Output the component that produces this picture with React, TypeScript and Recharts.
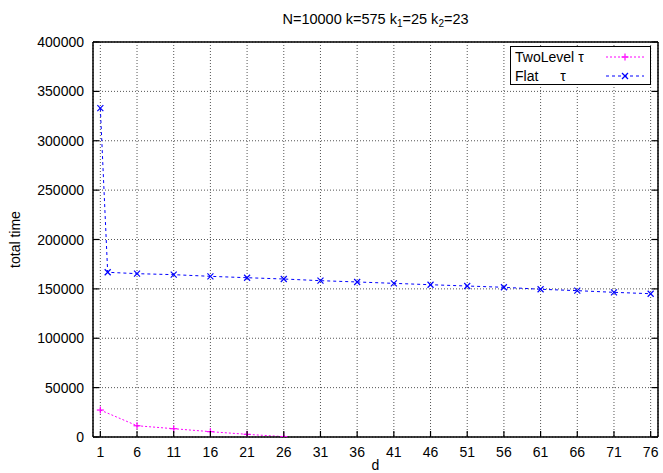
import { LineChart, Line, XAxis, YAxis, CartesianGrid } from 'recharts';

const dFlat = [1, 2, 6, 11, 16, 21, 26, 31, 36, 41, 46, 51, 56, 61, 66, 71, 76];
const flatTime = [
  333000, 166800, 165400, 164400, 162700, 161300, 160000, 158300, 157000, 155600, 154200, 152900, 151600,
  149600, 148200, 146500, 145100,
];
const dTwoLevel = [1, 6, 11, 16, 21, 26];
const twoLevelTime = [27300, 11400, 8400, 5400, 2700, 400];

const xTicks = [1, 6, 11, 16, 21, 26, 31, 36, 41, 46, 51, 56, 61, 66, 71, 76];
const yTicks = [0, 50000, 100000, 150000, 200000, 250000, 300000, 350000, 400000];

const flatData = dFlat.map((d, i) => ({ d, t: flatTime[i] }));
const twoLevelData = dTwoLevel.map((d, i) => ({ d, t: twoLevelTime[i] }));

const font = '"Liberation Sans", Arial, sans-serif';
const magenta = '#ff00ff';
const blue = '#0000ff';

const BottomTick = ({ x, y, payload }: any) => (
  <g>
    <line x1={x} y1={y} x2={x} y2={y - 6} stroke="#000" strokeWidth={1.2} />
    <text x={x} y={y + 20} textAnchor="middle" fontSize={14} fontFamily={font} fill="#000">
      {payload.value}
    </text>
  </g>
);

const TopTick = ({ x, y }: any) => <line x1={x} y1={y} x2={x} y2={y + 6} stroke="#000" strokeWidth={1.2} />;

const LeftTick = ({ x, y, payload }: any) => (
  <g>
    <line x1={x} y1={y} x2={x + 6} y2={y} stroke="#000" strokeWidth={1.2} />
    <text x={x - 9} y={y + 5} textAnchor="end" fontSize={14} fontFamily={font} fill="#000">
      {payload.value}
    </text>
  </g>
);

const RightTick = ({ x, y }: any) => <line x1={x} y1={y} x2={x - 6} y2={y} stroke="#000" strokeWidth={1.2} />;

const PlusDot = ({ cx, cy, index }: any) => (
  <g key={`p${index}`}>
    <line x1={cx - 3.5} y1={cy} x2={cx + 3.5} y2={cy} stroke={magenta} strokeWidth={1.2} />
    <line x1={cx} y1={cy - 3.5} x2={cx} y2={cy + 3.5} stroke={magenta} strokeWidth={1.2} />
  </g>
);

const CrossDot = ({ cx, cy, index }: any) => (
  <g key={`x${index}`}>
    <line x1={cx - 3} y1={cy - 3} x2={cx + 3} y2={cy + 3} stroke={blue} strokeWidth={1.2} />
    <line x1={cx - 3} y1={cy + 3} x2={cx + 3} y2={cy - 3} stroke={blue} strokeWidth={1.2} />
  </g>
);

export default function App() {
  return (
    <div style={{ position: 'absolute', left: 0, top: 0, width: 663, height: 473, background: '#fff', fontFamily: font }}>
      <div style={{ position: 'absolute', left: 93, width: 565, top: 10, textAlign: 'center', fontSize: 14.5, lineHeight: '18px' }}>
        N=10000 k=575 k<sub style={{ fontSize: 10, verticalAlign: -3 }}>1</sub>=25 k
        <sub style={{ fontSize: 10, verticalAlign: -3 }}>2</sub>=23
      </div>
      <LineChart width={663} height={473} margin={{ top: 0, right: 0, bottom: 0, left: 0 }}>
        <CartesianGrid stroke="#555" strokeDasharray="1 2" />
        <XAxis
          type="number"
          dataKey="d"
          domain={[0, 77]}
          ticks={xTicks}
          height={36}
          tickSize={0}
          tickMargin={0}
          tickLine={false}
          tick={<BottomTick />}
          axisLine={{ stroke: '#000', strokeWidth: 1.5 }}
          allowDataOverflow
          label={{ value: 'd', position: 'insideBottom', offset: 0, fontSize: 14, fontFamily: font, fill: '#000', dy: -3 }}
        />
        <XAxis
          xAxisId="top"
          orientation="top"
          type="number"
          domain={[0, 77]}
          ticks={xTicks}
          height={42}
          tickSize={0}
          tickMargin={0}
          tickLine={false}
          tick={<TopTick />}
          axisLine={{ stroke: '#000', strokeWidth: 1.5 }}
          allowDataOverflow
        />
        <YAxis
          type="number"
          domain={[0, 400000]}
          ticks={yTicks}
          width={93}
          tickSize={0}
          tickMargin={0}
          tickLine={false}
          tick={<LeftTick />}
          axisLine={{ stroke: '#000', strokeWidth: 1.5 }}
          allowDataOverflow
          label={{
            value: 'total time',
            angle: -90,
            position: 'insideLeft',
            offset: 15,
            fontSize: 14,
            fontFamily: font,
            fill: '#000',
            style: { textAnchor: 'middle' },
          }}
        />
        <YAxis
          yAxisId="right"
          orientation="right"
          type="number"
          domain={[0, 400000]}
          ticks={yTicks}
          width={5}
          tickSize={0}
          tickMargin={0}
          tickLine={false}
          tick={<RightTick />}
          axisLine={{ stroke: '#000', strokeWidth: 1.5 }}
          allowDataOverflow
        />
        <Line
          data={twoLevelData}
          dataKey="t"
          stroke={magenta}
          strokeWidth={1}
          strokeDasharray="2 2"
          dot={PlusDot}
          activeDot={false}
          isAnimationActive={false}
        />
        <Line
          data={flatData}
          dataKey="t"
          stroke={blue}
          strokeWidth={1}
          strokeDasharray="3 3"
          dot={CrossDot}
          activeDot={false}
          isAnimationActive={false}
        />
      </LineChart>
      <div
        style={{
          position: 'absolute',
          left: 510,
          top: 46,
          width: 139,
          height: 37,
          border: '1.5px solid #000',
          background: '#fff',
          fontSize: 14,
        }}
      >
        {[
          { name: 'TwoLevel', gap: 4, color: magenta, dash: '2 2', dot: 'plus' },
          { name: 'Flat', gap: 22, color: blue, dash: '3 3', dot: 'cross' },
        ].map((item, i) => (
          <div key={item.name} style={{ position: 'absolute', left: 4, top: 1 + i * 19, height: 18, lineHeight: '18px', width: 132 }}>
            <span>{item.name}</span>
            <span style={{ marginLeft: item.gap }}>τ</span>
            <svg width={38} height={18} style={{ position: 'absolute', left: 91, top: 0 }}>
              <line x1={0} y1={9} x2={38} y2={9} stroke={item.color} strokeDasharray={item.dash} />
              {item.dot === 'plus' ? (
                <g>
                  <line x1={15.5} y1={9} x2={22.5} y2={9} stroke={item.color} strokeWidth={1.2} />
                  <line x1={19} y1={5.5} x2={19} y2={12.5} stroke={item.color} strokeWidth={1.2} />
                </g>
              ) : (
                <g>
                  <line x1={16} y1={6} x2={22} y2={12} stroke={item.color} strokeWidth={1.2} />
                  <line x1={16} y1={12} x2={22} y2={6} stroke={item.color} strokeWidth={1.2} />
                </g>
              )}
            </svg>
          </div>
        ))}
      </div>
    </div>
  );
}
